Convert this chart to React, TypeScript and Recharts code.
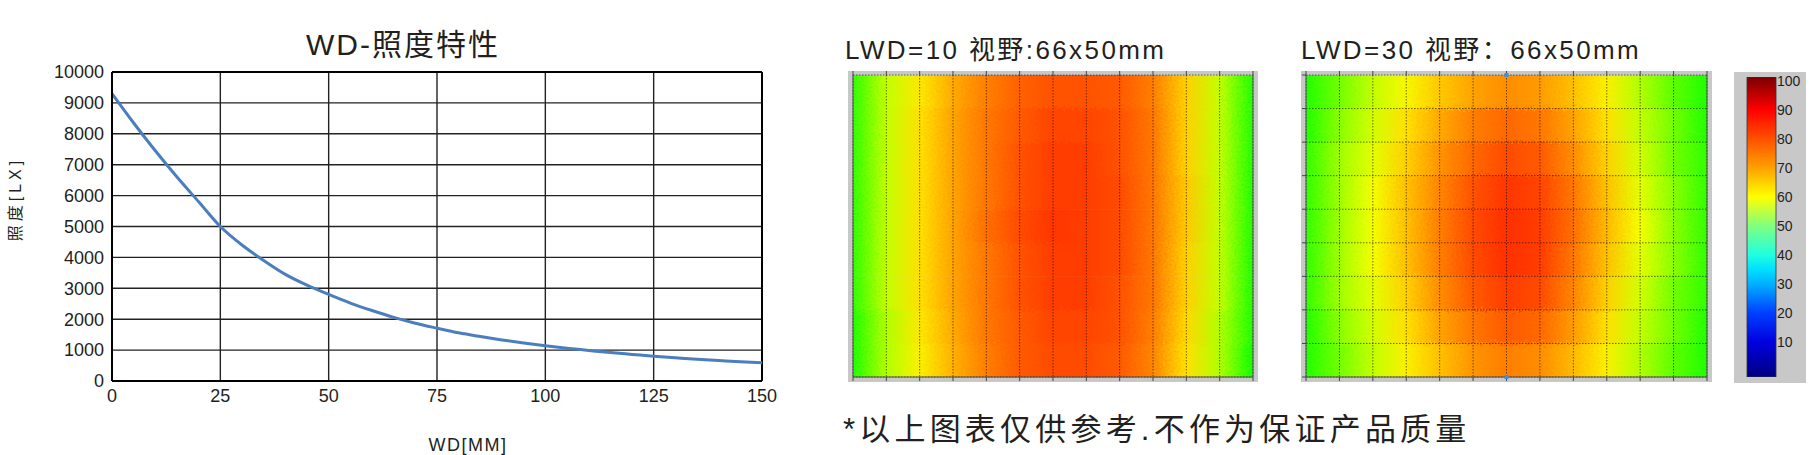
import React from "react";
import {
  LineChart,
  Line,
  XAxis,
  YAxis,
  CartesianGrid,
  ReferenceLine,
  ComposedChart,
  BarChart,
  Bar,
  Cell,
  Scatter,
} from "recharts";

// WD - illuminance curve
const WD_MM = [
  0, 5, 10, 15, 20, 25, 30, 35, 40, 45, 50, 55, 60, 65, 70, 75, 80, 85, 90, 95,
  100, 105, 110, 115, 120, 125, 130, 135, 140, 145, 150,
];
const LUX = [
  9300, 8350, 7450, 6600, 5800, 5000, 4400, 3900, 3450, 3100, 2800, 2520, 2280,
  2060, 1870, 1710, 1560, 1440, 1330, 1230, 1140, 1060, 990, 920, 860, 800, 750,
  700, 660, 620, 590,
];
const WD_TICKS = [0, 25, 50, 75, 100, 125, 150];
const LUX_TICKS = [0, 1000, 2000, 3000, 4000, 5000, 6000, 7000, 8000, 9000, 10000];

// heat maps: 66 x 50 mm field, values sampled at the 13 vertical grid lines, 9 bands top -> bottom
const FIELD_W = 66;
const FIELD_H = 50;
const HEAT_COLS = [0, 5.5, 11, 16.5, 22, 27.5, 33, 38.5, 44, 49.5, 55, 60.5, 66];
const LWD10_ROWS = [
  [50, 57, 63, 71, 77, 81, 83, 83, 82, 77, 66, 57, 49],
  [50, 57, 64, 72, 78, 82, 85, 85, 83, 78, 66, 57, 49],
  [50, 57, 64, 72, 78, 83, 86, 86, 83, 78, 66, 57, 49],
  [50, 57, 64, 72, 78, 83, 86, 86, 84, 78, 67, 57, 49],
  [50, 57, 64, 72, 79, 84, 87, 86, 84, 78, 67, 57, 49],
  [50, 57, 64, 72, 78, 83, 86, 86, 84, 78, 66, 57, 49],
  [50, 57, 64, 72, 78, 83, 86, 86, 83, 78, 66, 57, 49],
  [49, 56, 63, 71, 78, 82, 85, 85, 83, 77, 65, 56, 49],
  [49, 56, 62, 70, 77, 82, 84, 84, 82, 76, 64, 56, 48],
];
const LWD30_ROWS = [
  [49, 53, 57, 61, 67, 72, 75, 73, 68, 62, 56, 52, 49],
  [49, 54, 58, 64, 71, 77, 80, 78, 72, 64, 57, 53, 49],
  [50, 55, 59, 66, 74, 80, 84, 82, 75, 66, 58, 53, 50],
  [50, 55, 60, 68, 76, 83, 87, 85, 78, 68, 59, 54, 50],
  [50, 55, 60, 68, 77, 84, 88, 86, 79, 69, 60, 54, 50],
  [50, 55, 60, 68, 77, 84, 88, 86, 78, 68, 59, 54, 50],
  [50, 55, 59, 66, 75, 82, 86, 84, 76, 66, 58, 53, 50],
  [49, 54, 58, 64, 72, 78, 82, 80, 73, 64, 57, 53, 49],
  [49, 53, 57, 62, 68, 74, 77, 75, 69, 62, 56, 52, 49],
];
// little blue markers on the LWD=30 map (top and bottom edge, centre)
const LWD30_MARKS = [
  { x: 33, y: 50 },
  { x: 33, y: 0 },
];

const CBAR_TICKS = [10, 20, 30, 40, 50, 60, 70, 80, 90, 100];
const CBAR_MIN = -2.1;
const CBAR_MAX = 101.3;

const INK = "#231f20";
const FONT = "'Liberation Sans', Arial, 'Noto Sans CJK SC', sans-serif";

// colour scales (styling only)
const HEAT_STOPS: [number, string][] = [
  [48, "#10ff00"],
  [50, "#30ff00"],
  [55, "#a0ff00"],
  [60, "#f4ff00"],
  [64, "#ffe000"],
  [68, "#ffc000"],
  [74, "#ff9400"],
  [80, "#ff6800"],
  [85, "#ff4400"],
  [89, "#ff2800"],
];
const JET_STOPS: [number, string][] = [
  [101.3, "#7a0000"],
  [90, "#ff0000"],
  [80, "#ff5000"],
  [70, "#ffa000"],
  [60, "#ffff00"],
  [50, "#80ff80"],
  [40, "#20ffe0"],
  [35, "#00e0ff"],
  [30, "#00b0ff"],
  [20, "#0040ff"],
  [10, "#0000e0"],
  [-2.1, "#000080"],
];

function hexRgb(h: string) {
  return [1, 3, 5].map((i) => parseInt(h.slice(i, i + 2), 16));
}

function heatColor(v: number) {
  if (v <= HEAT_STOPS[0][0]) return HEAT_STOPS[0][1];
  for (let i = 1; i < HEAT_STOPS.length; i++) {
    const [v1, c1] = HEAT_STOPS[i];
    if (v <= v1) {
      const [v0, c0] = HEAT_STOPS[i - 1];
      const t = (v - v0) / (v1 - v0);
      const a = hexRgb(c0);
      const b = hexRgb(c1);
      const m = a.map((x, j) => Math.round(x + (b[j] - x) * t));
      return `rgb(${m[0]},${m[1]},${m[2]})`;
    }
  }
  return HEAT_STOPS[HEAT_STOPS.length - 1][1];
}

const wdData = WD_MM.map((wd, i) => ({ wd, lux: LUX[i] }));
const colData = HEAT_COLS.map((x) => ({ x }));

const tickAxis = {
  tickSize: 4,
  tickFormatter: () => "",
  tickLine: { stroke: "#444" },
};

function HeatMap({
  id,
  rows,
  width,
  marks = [],
}: {
  id: string;
  rows: number[][];
  width: number;
  marks?: { x: number; y: number }[];
}) {
  const band = FIELD_H / rows.length;
  const rowLines = rows.map((_, i) => i * band).concat(FIELD_H);
  const bands = rows.map((_, i) => ({ band: i, w: FIELD_W }));
  const margin = { top: 4, right: 5, bottom: 5, left: 5 };
  return (
    <div style={{ position: "relative", width, height: 311, background: "#c8c8c8" }}>
      {/* the grain filter only speckles the colours a little, like the measured map */}
      <div style={{ position: "absolute", left: 0, top: 0, filter: "url(#grain)" }}>
        <BarChart
          layout="vertical"
          width={width}
          height={311}
          data={bands}
          margin={margin}
          barCategoryGap={0}
          barGap={0}
        >
          <defs>
            {rows.map((row, i) => (
              <linearGradient key={i} id={`${id}-r${i}`} x1="0" y1="0" x2="1" y2="0">
                {row.map((v, k) => (
                  <stop
                    key={k}
                    offset={`${(HEAT_COLS[k] / FIELD_W) * 100}%`}
                    stopColor={heatColor(v)}
                  />
                ))}
              </linearGradient>
            ))}
          </defs>
          <XAxis type="number" domain={[0, FIELD_W]} hide />
          <YAxis type="category" dataKey="band" hide />
          <Bar dataKey="w" isAnimationActive={false}>
            {bands.map((d) => (
              <Cell key={d.band} fill={`url(#${id}-r${d.band})`} />
            ))}
          </Bar>
        </BarChart>
      </div>
      <div style={{ position: "absolute", left: 0, top: 0 }}>
        <ComposedChart
          width={width}
          height={311}
          data={colData}
          margin={{ top: 0, right: 0, bottom: 0, left: 0 }}
        >
          <CartesianGrid stroke="rgba(0,0,0,0.55)" strokeDasharray="1.5 1.5" />
          <XAxis
            type="number"
            dataKey="x"
            domain={[0, FIELD_W]}
            ticks={HEAT_COLS}
            height={margin.bottom}
            axisLine={{ stroke: "#555" }}
            {...tickAxis}
          />
          <XAxis
            xAxisId="top"
            orientation="top"
            type="number"
            dataKey="x"
            domain={[0, FIELD_W]}
            ticks={HEAT_COLS}
            height={margin.top}
            axisLine={false}
            {...tickAxis}
          />
          <YAxis
            type="number"
            domain={[0, FIELD_H]}
            ticks={rowLines}
            width={margin.left}
            axisLine={{ stroke: "#555" }}
            {...tickAxis}
          />
          <YAxis
            yAxisId="right"
            orientation="right"
            type="number"
            domain={[0, FIELD_H]}
            ticks={rowLines}
            width={margin.right}
            axisLine={{ stroke: "#555" }}
            {...tickAxis}
          />
          {marks.length > 0 && (
            <Scatter
              data={marks}
              dataKey="y"
              isAnimationActive={false}
              shape={(p: any) => (
                <rect x={p.cx - 2} y={p.cy - 2} width={4} height={4} fill="#3d8fe0" />
              )}
            />
          )}
        </ComposedChart>
      </div>
    </div>
  );
}

function ColorBar() {
  const bar = [{ k: "c", v: [CBAR_MIN, CBAR_MAX] }];
  return (
    <div style={{ width: 72, height: 311, background: "#c8c8c8" }}>
      <BarChart
        width={72}
        height={311}
        data={bar}
        margin={{ top: 5, right: 0, bottom: 6, left: 13 }}
        barCategoryGap={0}
      >
        <defs>
          <linearGradient id="jet" x1="0" y1="0" x2="0" y2="1">
            {JET_STOPS.map(([v, c]) => (
              <stop
                key={v}
                offset={`${((CBAR_MAX - v) / (CBAR_MAX - CBAR_MIN)) * 100}%`}
                stopColor={c}
              />
            ))}
          </linearGradient>
        </defs>
        <XAxis type="category" dataKey="k" hide />
        <YAxis
          orientation="right"
          type="number"
          domain={[CBAR_MIN, CBAR_MAX]}
          allowDataOverflow
          ticks={CBAR_TICKS}
          interval={0}
          width={30}
          tickSize={0}
          tickMargin={1}
          axisLine={false}
          tickLine={false}
          tick={{ fontSize: 14, fill: INK, fontFamily: FONT }}
        />
        <Bar
          dataKey="v"
          fill="url(#jet)"
          stroke="#333"
          strokeWidth={0.8}
          isAnimationActive={false}
        />
      </BarChart>
    </div>
  );
}

export default function App() {
  return (
    <div
      style={{
        position: "absolute",
        left: 0,
        top: 0,
        width: 1818,
        height: 455,
        background: "#fff",
        overflow: "hidden",
        fontFamily: FONT,
      }}
    >
      <svg width={0} height={0} style={{ position: "absolute" }}>
        <defs>
          <filter id="grain" x="0" y="0" width="100%" height="100%">
            <feTurbulence
              type="fractalNoise"
              baseFrequency="0.45"
              numOctaves={2}
              seed={5}
              result="noise"
            />
            <feDisplacementMap
              in="SourceGraphic"
              in2="noise"
              scale={16}
              xChannelSelector="R"
              yChannelSelector="G"
              result="disp"
            />
            <feMerge result="merged">
              <feMergeNode in="SourceGraphic" />
              <feMergeNode in="disp" />
            </feMerge>
            <feComposite in="merged" in2="SourceGraphic" operator="in" />
          </filter>
        </defs>
      </svg>

      <div style={{ position: "absolute", left: 0, top: 0 }}>
        <LineChart
          width={800}
          height={455}
          data={wdData}
          margin={{ top: 72, right: 38, bottom: 44, left: 52 }}
        >
          <CartesianGrid stroke="#222" strokeWidth={1.4} />
          <XAxis
            type="number"
            dataKey="wd"
            domain={[0, 150]}
            ticks={WD_TICKS}
            interval={0}
            height={30}
            axisLine={{ stroke: "#000", strokeWidth: 2 }}
            tickLine={false}
            tick={{ fontSize: 18, fill: INK, fontFamily: FONT }}
          />
          <YAxis
            type="number"
            domain={[0, 10000]}
            ticks={LUX_TICKS}
            interval={0}
            width={60}
            axisLine={{ stroke: "#000", strokeWidth: 2 }}
            tickLine={false}
            tick={{ fontSize: 18, fill: INK, fontFamily: FONT }}
          />
          <ReferenceLine y={10000} stroke="#000" strokeWidth={2} />
          <ReferenceLine x={150} stroke="#000" strokeWidth={2} />
          <Line
            type="monotone"
            dataKey="lux"
            stroke="#4a7ebf"
            strokeWidth={3}
            dot={false}
            isAnimationActive={false}
          />
        </LineChart>
      </div>

      <div style={{ position: "absolute", left: 848, top: 71 }}>
        <HeatMap id="lwd10" rows={LWD10_ROWS} width={410} />
      </div>
      <div style={{ position: "absolute", left: 1301, top: 71 }}>
        <HeatMap id="lwd30" rows={LWD30_ROWS} width={411} marks={LWD30_MARKS} />
      </div>
      <div style={{ position: "absolute", left: 1734, top: 72 }}>
        <ColorBar />
      </div>

      <svg
        width={1818}
        height={455}
        style={{ position: "absolute", left: 0, top: 0, pointerEvents: "none" }}
      >
        <g fill={INK} fontFamily={FONT}>
          <text x={306} y={55} fontSize={30} letterSpacing={2}>
            WD-照度特性
          </text>
          <text
            x={15.5}
            y={199}
            fontSize={16}
            letterSpacing={4}
            textAnchor="middle"
            dominantBaseline="central"
            transform="rotate(-90 15.5 199)"
          >
            照度[LX]
          </text>
          <text x={468} y={451} fontSize={18} letterSpacing={1.5} textAnchor="middle">
            WD[MM]
          </text>
          <text x={845} y={59} fontSize={26} letterSpacing={2.4}>
            LWD=10  视野:66x50mm
          </text>
          <text x={1301} y={59} fontSize={26} letterSpacing={2.4}>
            LWD=30  视野：66x50mm
          </text>
          <text x={843} y={440} fontSize={31} letterSpacing={4.2}>
            *以上图表仅供参考.不作为保证产品质量
          </text>
        </g>
      </svg>
    </div>
  );
}
